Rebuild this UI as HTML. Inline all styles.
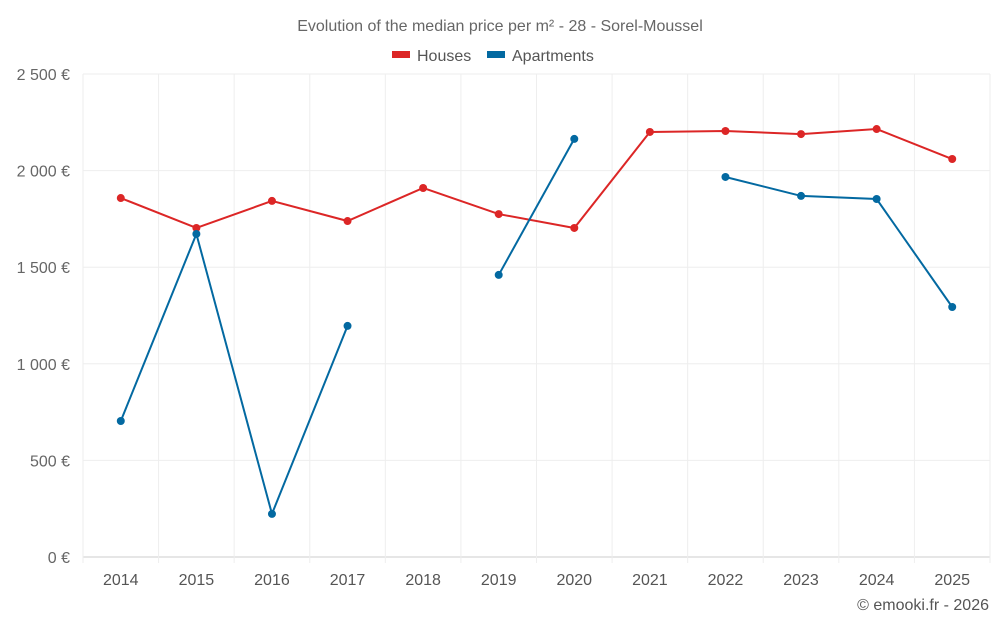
<!DOCTYPE html>
<html><head><meta charset="utf-8"><style>
body{margin:0;background:#fff;font-family:"Liberation Sans",sans-serif}
svg text{font-family:"Liberation Sans",sans-serif}
</style></head><body>
<svg width="1000" height="625" id="c">
<text x="500" y="31" text-anchor="middle" font-size="16" fill="#666">Evolution of the median price per m² - 28 - Sorel-Moussel</text>
<g><rect x="392" y="51" width="18" height="7" fill="#dc2626"/><text x="417" y="61" font-size="16" fill="#555">Houses</text></g>
<g><rect x="487" y="51" width="18" height="7" fill="#0369a1"/><text x="512" y="61" font-size="16" fill="#555">Apartments</text></g>
<g id="grid"></g><g id="marks"></g>
<text x="989" y="610" text-anchor="end" font-size="16" fill="#555">© emooki.fr - 2026</text>
</svg>
<script>
const years=[2014,2015,2016,2017,2018,2019,2020,2021,2022,2023,2024,2025];
const houses=[1858,1703,1843,1739,1910,1775,1703,2200,2205,2189,2215,2060];
const apartments=[704,1672,223,1196,null,1460,2164,null,1967,1869,1853,1294];
const yTicks=[0,500,1000,1500,2000,2500];
const yTickLabels=["0 €","500 €","1 000 €","1 500 €","2 000 €","2 500 €"];
const L=83,R=990,T=74,B=557,NS="http://www.w3.org/2000/svg";
const bw=(R-L)/years.length;
const x=i=>L+bw*(i+0.5), y=v=>B-(v/2500)*(B-T);
const g=document.getElementById('grid'),m=document.getElementById('marks');
function mk(t,a,p){const e=document.createElementNS(NS,t);for(const k in a)e.setAttribute(k,a[k]);p.appendChild(e);return e;}
yTicks.forEach((v,i)=>{
 const l=mk('line',{x1:L,x2:R,y1:y(v),y2:y(v),stroke:i==0?'#ccc':'#eee'},g);
 
 
 const t=mk('text',{x:70,y:y(v)+6,'text-anchor':'end','font-size':16,fill:'#666'},g);t.textContent=yTickLabels[i];
 
 
});
for(let i=0;i<=years.length;i++){
 const xx=L+bw*i;
 const l=mk('line',{x1:xx,x2:xx,y1:T,y2:B+6,stroke:'#eee'},g);
 
 
}
years.forEach((yr,i)=>{
 const t=mk('text',{x:x(i),y:585,'text-anchor':'middle','font-size':16,fill:'#555'},g);t.textContent=yr;
 
 
});
function series(vals,col,name){
 let seg=[];const segs=[];
 vals.forEach((v,i)=>{if(v==null){if(seg.length)segs.push(seg);seg=[];}else seg.push([x(i),y(v)]);});
 if(seg.length)segs.push(seg);
 segs.forEach(s=>{if(s.length>1){const p=mk('polyline',{points:s.map(q=>q.join(',')).join(' '),fill:'none',stroke:col,'stroke-width':2},m);
  
  }});
 vals.forEach((v,i)=>{if(v==null)return;const c=mk('circle',{cx:x(i),cy:y(v),r:4,fill:col},m);
  
  });
}
series(houses,'#dc2626','houses');
series(apartments,'#0369a1','apartments');
</script>
</body></html>
